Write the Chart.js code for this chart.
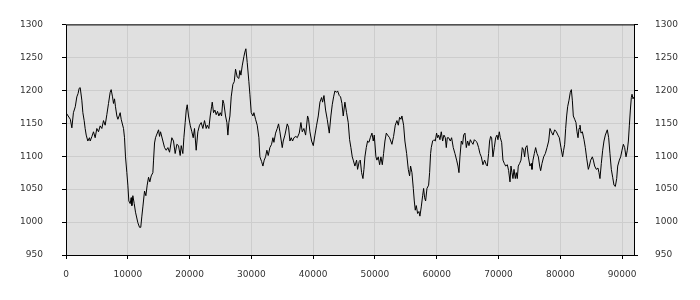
<!DOCTYPE html>
<html>
<head>
<meta charset="utf-8">
<script src="https://cdn.jsdelivr.net/npm/chart.js@4"></script>
<style>
  html, body { margin: 0; padding: 0; background: #ffffff; }
  canvas { display: block; }
</style>
</head>
<body>
<canvas id="chart" width="700" height="300"></canvas>
<script>
// values
const xValues = [
    0, 700, 950, 1200, 1500, 1750, 1950, 2130, 2300, 2560, 2730, 2940, 3100, 3270, 3530, 3800, 3910, 4200, 4450, 4720,
    4990, 5260, 5530, 5800, 6070, 6340, 6610, 6880, 7150, 7310, 7530, 7690, 7850, 8010, 8230, 8400, 8600, 8770, 8930, 9310,
    9470, 9630, 9850, 10010, 10170, 10390, 10550, 10660, 10820, 11040, 11250, 11630, 11900, 12100, 12280, 12440, 12710, 12930, 13140, 13360,
    13570, 13790, 14060, 14170, 14330, 14490, 14650, 14980, 15140, 15300, 15680, 15950, 16220, 16490, 16760, 17130, 17400, 17670, 17940, 18210,
    18480, 18650, 18910, 19080, 19290, 19460, 19620, 19830, 20100, 20370, 20590, 20800, 21070, 21340, 21610, 21880, 22150, 22420, 22690, 22860,
    23120, 23340, 23560, 23670, 23880, 24100, 24310, 24530, 24740, 24960, 25180, 25390, 25550, 25820, 26040, 26200, 26360, 26530, 26740, 27010,
    27230, 27440, 27710, 27980, 28140, 28310, 28520, 28790, 28950, 29110, 29330, 29600, 29760, 29980, 30250, 30410, 30680, 30950, 31220, 31380,
    31650, 31870, 32080, 32300, 32510, 32730, 33000, 33270, 33490, 33650, 33920, 34190, 34400, 34620, 35000, 35160, 35430, 35810, 36020, 36240,
    36450, 36670, 36890, 37210, 37430, 37750, 38020, 38240, 38500, 38780, 39100, 39260, 39480, 39750, 40020, 40290, 40560, 40830, 41100, 41370,
    41530, 41750, 42010, 42280, 42610, 42870, 43090, 43310, 43520, 43790, 43960, 44230, 44440, 44660, 44870, 45140, 45410, 45680, 45900, 46110,
    46330, 46490, 46760, 47030, 47190, 47460, 47630, 47840, 48060, 48220, 48380, 48600, 48810, 49030, 49250, 49520, 49730, 49890, 50160, 50320,
    50540, 50760, 50970, 51190, 51400, 51620, 51840, 52050, 52370, 52750, 53020, 53290, 53560, 53780, 53990, 54210, 54370, 54640, 54850, 55130,
    55400, 55610, 55770, 55990, 56210, 56370, 56530, 56690, 56910, 57120, 57280, 57500, 57720, 57880, 58040, 58200, 58420, 58690, 58850, 59010,
    59120, 59340, 59550, 59770, 59980, 60150, 60310, 60520, 60740, 60960, 61170, 61390, 61550, 61710, 61930, 62200, 62410, 62680, 62950, 63220,
    63440, 63600, 63760, 63980, 64190, 64350, 64570, 64790, 65000, 65220, 65440, 65650, 65870, 66090, 66300, 66520, 66780, 67000, 67220, 67480,
    67750, 68020, 68190, 68400, 68560, 68730, 68890, 69100, 69320, 69540, 69750, 69910, 70130, 70290, 70510, 70720, 70940, 71160, 71430, 71640,
    71860, 72020, 72180, 72340, 72510, 72720, 72880, 73040, 73200, 73420, 73640, 73850, 74070, 74230, 74390, 74610, 74830, 75090, 75310, 75420,
    75580, 75800, 76010, 76230, 76450, 76660, 76820, 77040, 77310, 77580, 77850, 78120, 78330, 78550, 78820, 79090, 79360, 79620, 79840, 80110,
    80380, 80540, 80710, 80870, 81030, 81190, 81410, 81620, 81790, 81950, 82110, 82330, 82540, 82700, 82870, 83030, 83190, 83350, 83570, 83840,
    84050, 84270, 84540, 84700, 84920, 85190, 85350, 85560, 85830, 86100, 86260, 86420, 86640, 86860, 87070, 87290, 87610, 87830, 88040, 88260,
    88480, 88690, 88910, 89130, 89290, 89560, 89770, 89990, 90210, 90420, 90640, 90850, 91020, 91180, 91340, 91500, 91610, 91770, 91930
];
const values = [
    1166, 1156, 1143, 1166, 1175, 1190, 1195, 1203, 1204, 1185, 1166, 1154, 1142, 1132, 1123, 1128, 1123, 1130, 1137, 1128,
    1142, 1137, 1146, 1142, 1154, 1147, 1163, 1180, 1197, 1201, 1190, 1180, 1187, 1175, 1161, 1156, 1161, 1166, 1156, 1142,
    1128, 1099, 1075, 1056, 1032, 1028, 1037, 1025, 1040, 1028, 1015, 999, 992, 992, 1009, 1023, 1047, 1040, 1056, 1068,
    1061, 1070, 1075, 1094, 1120, 1128, 1132, 1140, 1130, 1137, 1123, 1113, 1109, 1113, 1106, 1128, 1123, 1104, 1118, 1116,
    1101, 1116, 1104, 1128, 1151, 1170, 1178, 1161, 1147, 1137, 1128, 1142, 1109, 1137, 1147, 1151, 1142, 1154, 1142, 1147,
    1142, 1161, 1175, 1182, 1166, 1170, 1163, 1168, 1161, 1166, 1161, 1185, 1180, 1161, 1151, 1132, 1151, 1161, 1190, 1209,
    1213, 1232, 1220, 1218, 1230, 1223, 1237, 1251, 1258, 1263, 1242, 1213, 1194, 1166, 1161, 1166, 1156, 1147, 1128, 1099,
    1092, 1085, 1094, 1099, 1109, 1101, 1113, 1118, 1128, 1121, 1135, 1142, 1149, 1137, 1113, 1123, 1132, 1149, 1144, 1123,
    1128, 1123, 1128, 1130, 1128, 1135, 1151, 1137, 1142, 1132, 1161, 1156, 1137, 1123, 1116, 1132, 1147, 1161, 1182, 1189,
    1182, 1192, 1170, 1156, 1135, 1161, 1178, 1190, 1199, 1197, 1199, 1192, 1190, 1180, 1161, 1182, 1166, 1151, 1125, 1113,
    1099, 1094, 1085, 1094, 1080, 1092, 1094, 1075, 1066, 1080, 1099, 1113, 1123, 1121, 1128, 1135, 1123, 1132, 1099, 1094,
    1099, 1087, 1099, 1087, 1104, 1123, 1135, 1132, 1128, 1118, 1130, 1147, 1154, 1147, 1159, 1156, 1161, 1147, 1123, 1104,
    1080, 1070, 1085, 1075, 1051, 1032, 1018, 1025, 1013, 1016, 1009, 1023, 1040, 1051, 1037, 1032, 1051, 1056, 1075, 1104,
    1113, 1123, 1125, 1123, 1135, 1128, 1132, 1125, 1137, 1123, 1132, 1128, 1113, 1128, 1128, 1123, 1128, 1113, 1104, 1094,
    1085, 1075, 1099, 1123, 1118, 1132, 1135, 1113, 1123, 1116, 1125, 1121, 1118, 1125, 1123, 1121, 1113, 1104, 1099, 1087,
    1094, 1087, 1085, 1104, 1123, 1130, 1128, 1099, 1113, 1128, 1132, 1125, 1137, 1128, 1121, 1094, 1089, 1085, 1087, 1078,
    1061, 1085, 1075, 1066, 1080, 1066, 1075, 1066, 1085, 1089, 1094, 1113, 1109, 1099, 1113, 1116, 1099, 1085, 1089, 1080,
    1094, 1104, 1113, 1104, 1099, 1085, 1078, 1089, 1099, 1104, 1113, 1123, 1142, 1137, 1132, 1140, 1137, 1132, 1128, 1113,
    1099, 1109, 1118, 1142, 1161, 1175, 1185, 1197, 1201, 1185, 1161, 1156, 1151, 1137, 1128, 1142, 1147, 1135, 1137, 1125,
    1113, 1097, 1080, 1085, 1094, 1099, 1094, 1085, 1080, 1082, 1075, 1066, 1089, 1109, 1123, 1132, 1140, 1128, 1104, 1080,
    1068, 1056, 1054, 1066, 1085, 1094, 1099, 1109, 1118, 1113, 1099, 1109, 1123, 1147, 1170, 1189, 1194, 1187, 1190
];
const xTicks = [0, 10000, 20000, 30000, 40000, 50000, 60000, 70000, 80000, 90000];
const yTicks = [950, 1000, 1050, 1100, 1150, 1200, 1250, 1300];

const points = xValues.map((x, i) => ({x: x, y: values[i]}));

const plotFrame = {
    id: 'plotFrame',
    beforeDraw(chart) {
        const {ctx, chartArea} = chart;
        ctx.save();
        ctx.fillStyle = '#e0e0e0';
        ctx.fillRect(chartArea.left, chartArea.top, chartArea.right - chartArea.left, chartArea.bottom - chartArea.top);
        ctx.restore();
    },
    afterDraw(chart) {
        const {ctx, chartArea} = chart;
        ctx.save();
        ctx.strokeStyle = '#000000';
        ctx.lineWidth = 1;
        ctx.strokeRect(chartArea.left + 0.5, chartArea.top + 0.5,
            chartArea.right - chartArea.left, chartArea.bottom - chartArea.top);
        ctx.restore();
    }
};

Chart.defaults.font.family = 'DejaVu Sans';
Chart.defaults.font.size = 9;
Chart.defaults.color = '#333333';

const setTicks = list => scale => { scale.ticks = list.map(v => ({value: v})); };

new Chart(document.getElementById('chart'), {
    type: 'line',
    data: {
        datasets: [{
            data: points,
            borderColor: '#000000',
            borderWidth: 1,
            pointRadius: 0,
            tension: 0,
            fill: false
        }]
    },
    options: {
        responsive: false,
        animation: false,
        devicePixelRatio: 1,
        layout: {padding: {top: 10, left: 0, right: 0, bottom: 0}},
        plugins: {
            legend: {display: false},
            tooltip: {enabled: false}
        },
        scales: {
            x: {
                type: 'linear',
                min: 0,
                max: xValues[xValues.length - 1],
                border: {display: false},
                grid: {color: '#cdcdcd', tickColor: '#000000', tickLength: 4},
                ticks: {padding: 10, maxRotation: 0, autoSkip: false, callback: v => String(v)},
                afterBuildTicks: setTicks(xTicks),
                afterFit: s => { s.height = 45; }
            },
            y: {
                position: 'left',
                min: yTicks[0],
                max: yTicks[yTicks.length - 1],
                border: {display: false},
                grid: {color: '#cdcdcd', tickColor: '#000000', tickLength: 4},
                ticks: {padding: 19, autoSkip: false, callback: v => String(v)},
                afterBuildTicks: setTicks(yTicks),
                afterFit: s => { s.width = 66; }
            },
            yRight: {
                position: 'right',
                min: yTicks[0],
                max: yTicks[yTicks.length - 1],
                border: {display: false},
                grid: {drawOnChartArea: false, tickColor: '#000000', tickLength: 4},
                ticks: {padding: 17, autoSkip: false, callback: v => String(v)},
                afterBuildTicks: setTicks(yTicks),
                afterFit: s => { s.width = 66; }
            }
        }
    },
    plugins: [plotFrame]
});
</script>
</body>
</html>
